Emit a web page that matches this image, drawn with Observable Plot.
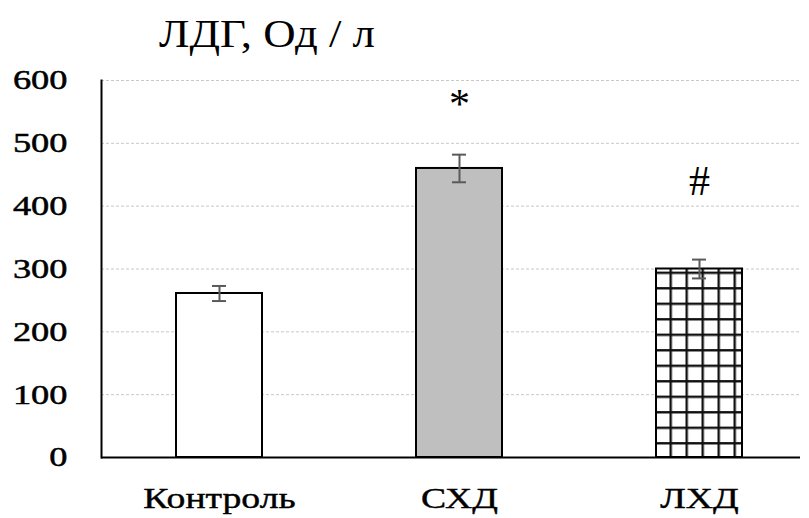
<!DOCTYPE html>
<html><head><meta charset="utf-8">
<script src="https://cdn.jsdelivr.net/npm/d3@7"></script>
<script src="https://cdn.jsdelivr.net/npm/@observablehq/plot@0.6"></script>
<style>
body{margin:0;background:#fff}
#title{font-family:"Liberation Serif";font-size:40px;height:70px;line-height:67px;padding-left:159px;color:#000;white-space:nowrap;box-sizing:border-box}
#title span{display:inline-block;transform:scaleX(1.12);transform-origin:left center}
svg{display:block}
</style></head><body>
<div id="chart"><div id="title"><span>ЛДГ, Од / л</span></div></div>
<script>
// data
const groups = ["Контроль", "СХД", "ЛХД"];
const means = [261, 460, 300];
const errors = [12, 22, 15];
const yTicks = [0, 100, 200, 300, 400, 500, 600];
const markGroups = ["СХД", "ЛХД"];
const markTexts = ["*", "#"];
const markValues = [541, 418];

// styles
const fillStyle = {"Контроль": "white", "СХД": "#bfbfbf", "ЛХД": "url(#grid)"};

const data = groups.map((g, i) => ({group: g, mean: means[i], lo: means[i] - errors[i], hi: means[i] + errors[i]}));
const marks = markGroups.map((g, i) => ({group: g, text: markTexts[i], y: markValues[i]}));

const svg = Plot.plot({
  width: 809,
  height: 448,
  marginTop: 10,
  marginBottom: 61,
  marginLeft: 101,
  marginRight: 9,
  style: {fontFamily: "Liberation Serif", fontSize: "28px", color: "black", background: "white", overflow: "visible"},
  x: {domain: groups, range: [99, 819], paddingInner: 0.64, paddingOuter: 0.32, label: null},
  y: {domain: [0, 600], label: null},
  color: {type: "identity"},
  marks: [
    Plot.gridY({ticks: yTicks, stroke: "#c8c8c8", strokeOpacity: 1, strokeDasharray: "3,2", strokeWidth: 1}),
    Plot.barY(data, {x: "group", y: "mean", fill: d => fillStyle[d.group], stroke: "black", strokeWidth: 2}),
    Plot.ruleX(data, {x: "group", y1: "lo", y2: "hi", stroke: "#5a5a5a", strokeWidth: 2}),
    Plot.tickY(data, {x: "group", y: "hi", stroke: "#5a5a5a", strokeWidth: 2, insetLeft: 36, insetRight: 36}),
    Plot.tickY(data, {x: "group", y: "lo", stroke: "#5a5a5a", strokeWidth: 2, insetLeft: 36, insetRight: 36}),
    Plot.text(marks, {x: "group", y: "y", text: "text", lineAnchor: "bottom", fontSize: 42, ariaLabel: "sig"}),
    Plot.ruleY([0], {stroke: "black", strokeWidth: 2}),
    Plot.frame({anchor: "left", stroke: "black", strokeWidth: 2}),
    Plot.axisY({ticks: yTicks, tickSize: 0, tickPadding: 34, fontSize: 28, label: null}),
    Plot.axisX({tickSize: 0, tickPadding: 30, fontSize: 29, label: null})
  ]
});

const defs = d3.select(svg).insert("defs", ":first-child");
const pat = defs.append("pattern")
  .attr("id", "grid")
  .attr("patternUnits", "userSpaceOnUse")
  .attr("width", 16).attr("height", 15.5)
  .attr("x", 669.5).attr("y", 372.1);
pat.append("rect").attr("width", 16).attr("height", 15.5).attr("fill", "white");
pat.append("rect").attr("x", 0).attr("y", 0).attr("width", 2.4).attr("height", 15.5).attr("fill", "#111");
pat.append("rect").attr("x", 0).attr("y", 0).attr("width", 16).attr("height", 2.4).attr("fill", "#111");

document.getElementById("chart").appendChild(svg);

// widen glyphs horizontally like the reference rendering
function stretch(sel, k, sw) {
  d3.select(svg).selectAll(sel).each(function() {
    const L = this.getComputedTextLength();
    this.setAttribute("textLength", L * k);
    this.setAttribute("lengthAdjust", "spacingAndGlyphs");
    if (sw) { this.setAttribute("stroke", "black"); this.setAttribute("stroke-width", sw); }
  });
}
stretch('g[aria-label="y-axis tick label"] text', 1.3, 0.5);
stretch('g[aria-label="x-axis tick label"] text', 1.3, 0.4);
stretch('g[aria-label="sig"] text', 1.1, 0.5);
</script>
</body></html>
